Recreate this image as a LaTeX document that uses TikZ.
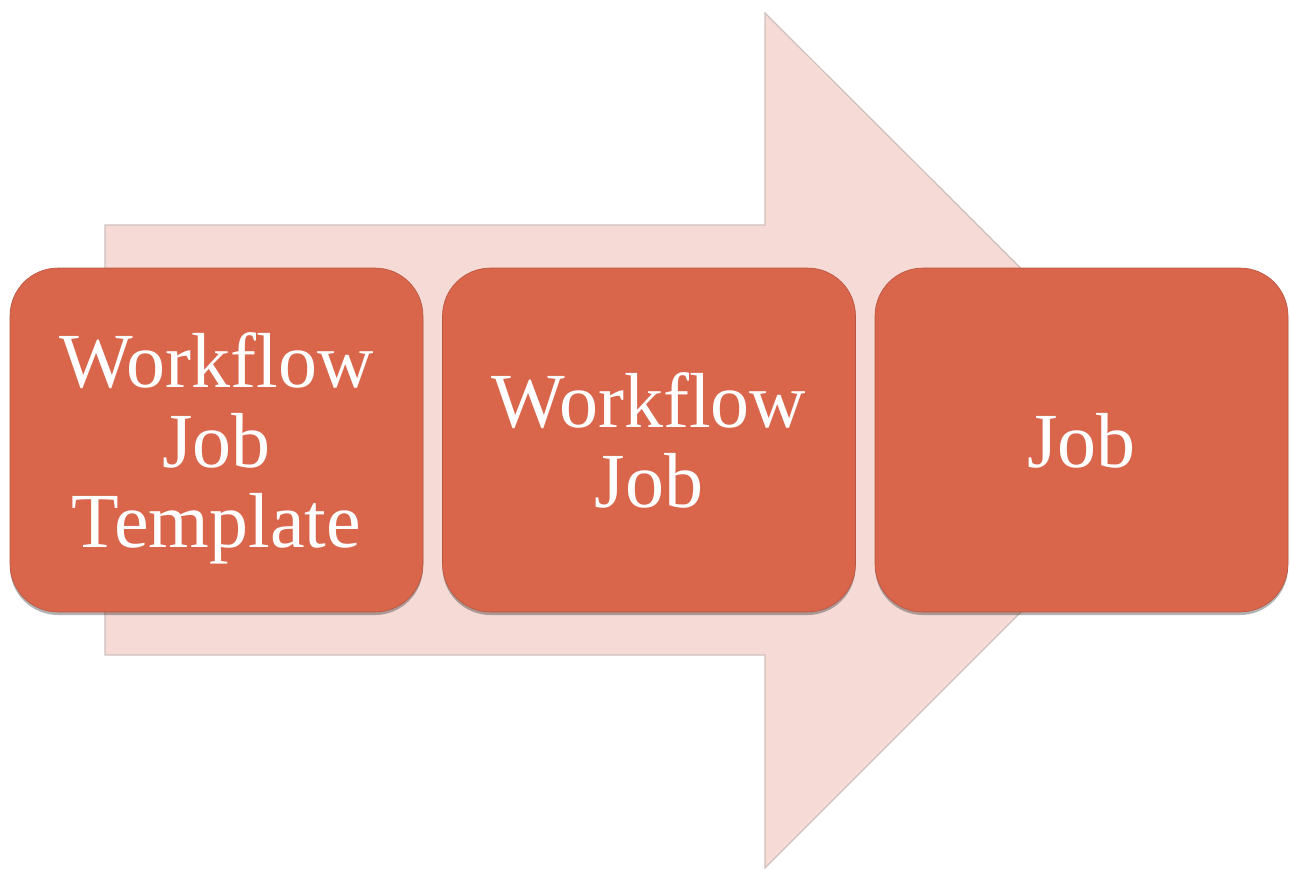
\documentclass[tikz,border=0pt]{standalone}
\usepackage{fontspec}
\setmainfont{Liberation Serif}
\usetikzlibrary{shadows}
\definecolor{boxred}{RGB}{217,101,75}
\definecolor{arrowpink}{RGB}{246,218,214}
\definecolor{arrowedge}{RGB}{205,192,190}
\tikzset{
  stagebox/.style={draw=boxred!85!black, line width=0.6pt, fill=boxred, rounded corners=48pt,
    minimum width=413pt, minimum height=344pt, text=white, align=center,
    font=\fontsize{78}{80}\selectfont, text depth=0pt,
    drop shadow={shadow xshift=0pt, shadow yshift=-3pt, opacity=0.3, fill=black}},
  bigarrow/.style={fill=arrowpink, draw=arrowedge, line width=1.2pt}
}
\begin{document}
\begin{tikzpicture}[x=1pt,y=-1pt]
\useasboundingbox (0,0) rectangle (1290,868);
\coordinate (a1) at (105,225);
\coordinate (a2) at (765,225);
\coordinate (a3) at (765,13);
\coordinate (a4) at (1193,440);
\coordinate (a5) at (765,868);
\coordinate (a6) at (765,655);
\coordinate (a7) at (105,655);
\draw[bigarrow] (a1) -- (a2) -- (a3) -- (a4) -- (a5) -- (a6) -- (a7) -- cycle;
\node[stagebox] (b1) at (216.5,440) {Workflow\\Job\\Template};
\node[stagebox] (b2) at (649,440) {Workflow\\Job};
\node[stagebox] (b3) at (1081.5,440) {Job};
\end{tikzpicture}
\end{document}
